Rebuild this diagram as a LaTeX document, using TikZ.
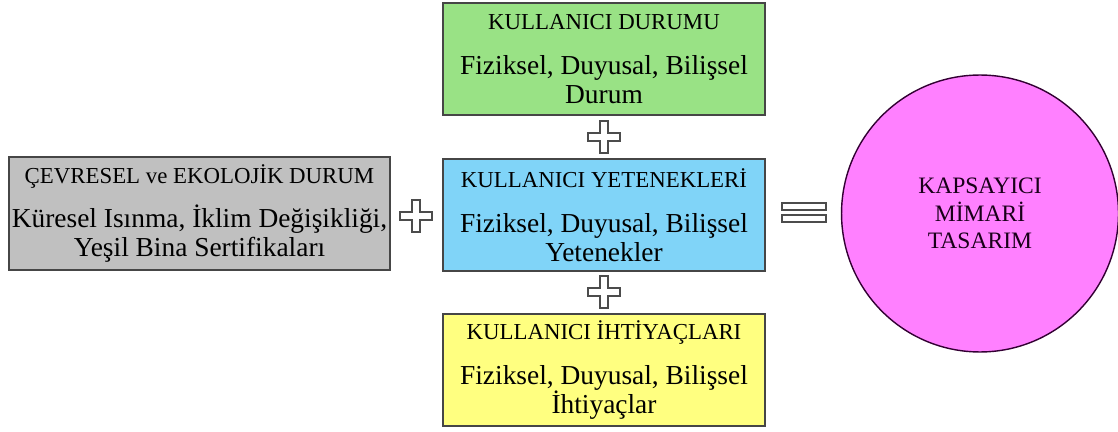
\documentclass[tikz,border=0pt]{standalone}
\usepackage{fontspec}
\setmainfont{Liberation Serif}
\definecolor{kgray}{RGB}{192,192,192}
\definecolor{kgreen}{RGB}{153,226,133}
\definecolor{kblue}{RGB}{128,212,248}
\definecolor{kyellow}{RGB}{255,255,128}
\definecolor{kpink}{RGB}{255,128,255}
\definecolor{kedge}{RGB}{70,70,70}
\newcommand{\hdfont}{\fontsize{13}{14}\selectfont}
\newcommand{\bdfont}{\fontsize{15.6}{16.5}\selectfont}
\usetikzlibrary{positioning}
\begin{document}
\begin{tikzpicture}[x=0.02cm,y=-0.02cm,
  box/.style={draw=kedge,thick,minimum width=6.44cm,minimum height=2.24cm,align=center,inner sep=0pt,font=\bdfont},
  sign/.style={draw=black!70,fill=white,line width=0.6pt}]
  \useasboundingbox (0,0) rectangle (1118,432);
  % Left box
  \node[box,fill=kgray,minimum width=7.62cm,minimum height=2.26cm] (env) at (199.5,213.5)
    {\hdfont ÇEVRESEL ve EKOLOJİK DURUM\\[9pt]
     Küresel Isınma, İklim Değişikliği,\\Yeşil Bina Sertifikaları};
  % User column
  \node[box,fill=kgreen] (state) at (604,59)
    {\hdfont KULLANICI DURUMU\\[9pt]
     Fiziksel, Duyusal, Bilişsel\\Durum};
  \node[box,fill=kblue] (abil) at (604,215)
    {\hdfont KULLANICI YETENEKLERİ\\[9pt]
     Fiziksel, Duyusal, Bilişsel\\Yetenekler};
  \node[box,fill=kyellow] (need) at (604,370)
    {\hdfont KULLANICI İHTİYAÇLARI\\[9pt]
     Fiziksel, Duyusal, Bilişsel\\İhtiyaçlar};
  % Result
  \node[circle,draw=black!60!violet,thick,fill=kpink,minimum size=5.54cm,align=center,
    font=\fontsize{13.4}{15.5}\selectfont,text=black!80!violet] (design) at (980,213.5)
    {KAPSAYICI\\MİMARİ\\TASARIM};
  % Plus signs
  \foreach \cx/\cy in {416/216,604/137,604/292}
    \draw[sign] (\cx-4,\cy-16) -- (\cx+4,\cy-16) -- (\cx+4,\cy-4) -- (\cx+16,\cy-4)
      -- (\cx+16,\cy+4) -- (\cx+4,\cy+4) -- (\cx+4,\cy+16) -- (\cx-4,\cy+16)
      -- (\cx-4,\cy+4) -- (\cx-16,\cy+4) -- (\cx-16,\cy-4) -- (\cx-4,\cy-4) -- cycle;
  % Equals sign
  \draw[sign] (782,203) rectangle (826,210);
  \draw[sign] (782,215) rectangle (826,222);
\end{tikzpicture}
\end{document}
